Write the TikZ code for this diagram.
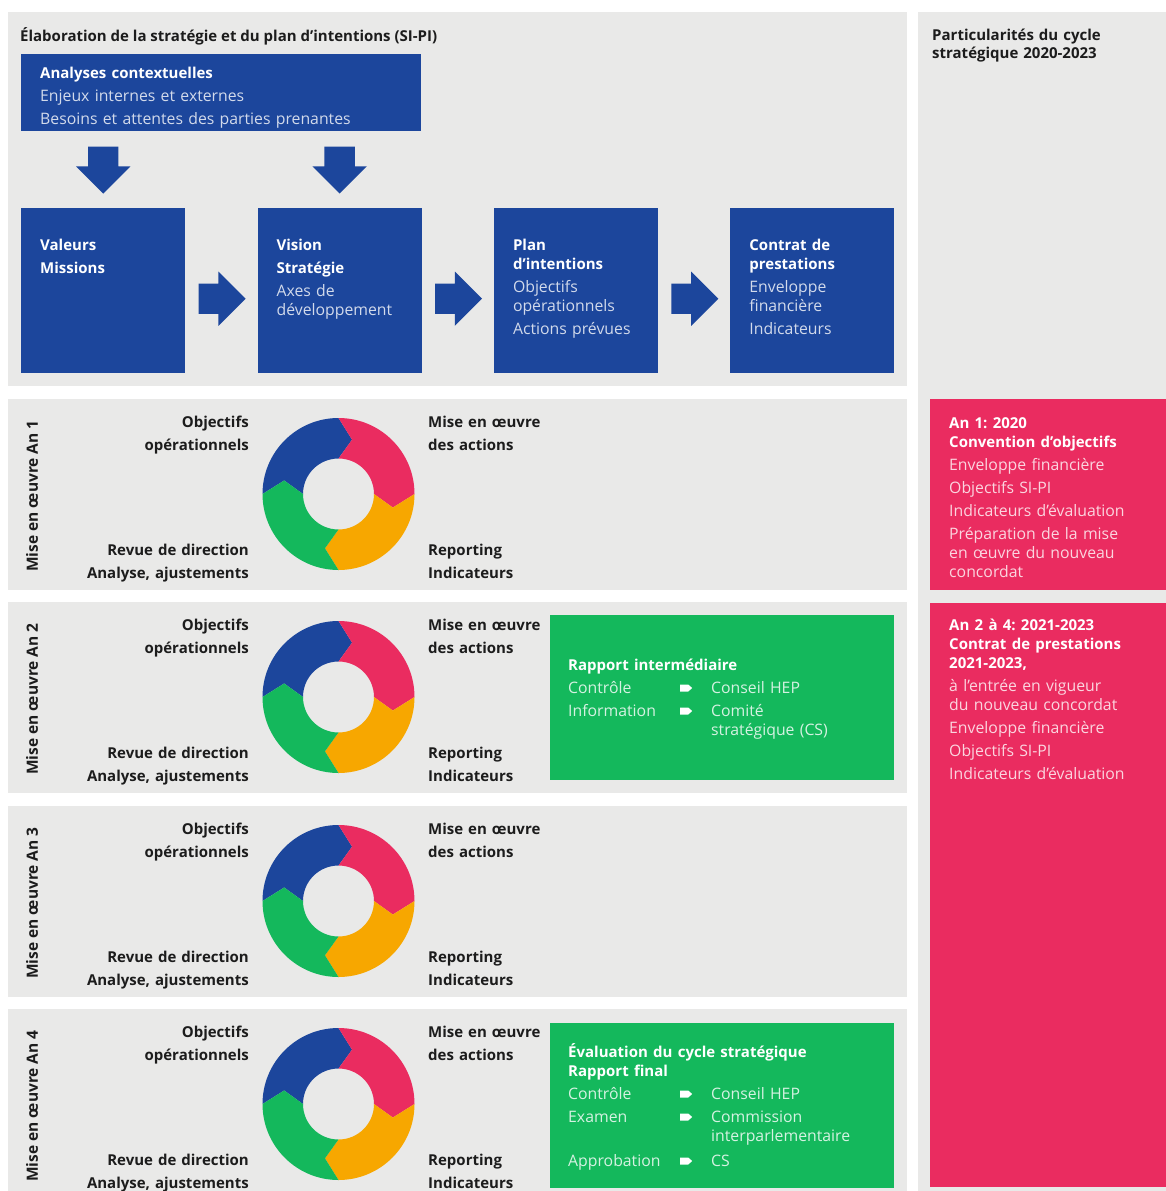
\documentclass[tikz,border=0pt]{standalone}
\usepackage{fontspec}
\setmainfont{Open Sans}
\usetikzlibrary{positioning,calc,shapes.arrows}

\definecolor{hepblue}{RGB}{28,70,156}
\definecolor{heppink}{RGB}{234,44,96}
\definecolor{heporange}{RGB}{247,167,0}
\definecolor{hepgreen}{RGB}{20,184,92}
\definecolor{panelgray}{RGB}{233,233,232}
\definecolor{darktext}{RGB}{28,28,28}
\colorlet{softblue}{white!80!hepblue}
\colorlet{softgreen}{white!82!hepgreen}
\colorlet{softpink}{white!80!heppink}

% bold lines inside the coloured boxes
\newcommand{\hd}[1]{{\fontsize{15}{19}\selectfont\bfseries #1}}

\tikzset{
  panel/.style={fill=panelgray},
  bluebox/.style={fill=hepblue, anchor=north west, inner sep=0pt, minimum width=164pt, minimum height=165pt},
  greenbox/.style={fill=hepgreen, anchor=north west, inner sep=0pt, minimum width=344pt, minimum height=165pt},
  pinkbox/.style={fill=heppink, anchor=north west, inner sep=0pt, minimum width=236pt},
  bigarrow/.style={single arrow, fill=hepblue, inner xsep=0pt, inner ysep=15pt, minimum height=47pt,
    single arrow head extend=12pt, single arrow head indent=0pt, anchor=tail},
  boxtxt/.style={anchor=base west, align=left, inner sep=0pt, text width=#1, text=white,
    font=\fontsize{15.8}{19}\selectfont},
  boxtxt/.default=320pt,
  head/.style={anchor=base west, align=left, inner sep=0pt, text=darktext, font=\fontsize{15}{18}\selectfont\bfseries},
  cyclel/.style={anchor=base east, align=right, inner sep=0pt, text width=200pt, text=darktext,
    font=\fontsize{15}{23}\selectfont\bfseries},
  cycler/.style={anchor=base west, align=left, inner sep=0pt, text width=150pt, text=darktext,
    font=\fontsize{15}{23}\selectfont\bfseries},
  rowlabel/.style={rotate=90, inner sep=0pt, text=darktext, font=\fontsize{15.5}{18}\selectfont\bfseries}
}

% small white tag arrow used in the green boxes
\newcommand{\tagarr}{\tikz[x=1pt,y=1pt,baseline=0pt]\fill[white] (0,1.5) -- (8,1.5) -- (12,5) -- (8,8.5) -- (0,8.5) -- cycle;}

\begin{document}
\frenchspacing
\begin{tikzpicture}[x=1pt,y=-1pt]
  \fill[white] (0,0) rectangle (1166,1191);
  \useasboundingbox (0,0) rectangle (1166,1191);

  % panels
  \fill[panel] (8,12) rectangle (907,386);
  \fill[panel] (918,12) rectangle (1166,1191);

  % titles
  \node[head] (title) at (20,41) {Élaboration de la stratégie et du plan d’intentions (SI-PI)};
  \node[head, text width=220pt] (ptitle) at (932,40) {Particularités du cycle\\stratégique 2020-2023};

  % analyses contextuelles
  \node[bluebox, minimum width=400pt, minimum height=77pt] (ana) at (21,54) {};
  \node[boxtxt] (ana-t) at ($(ana.north west)+(19,24)$)
    {\hd{Analyses contextuelles}\\[4pt]\color{softblue}Enjeux internes et externes\\[4pt]Besoins et attentes des parties prenantes};

  % strategy boxes
  \node[bluebox] (val) at (21,208) {};
  \node[bluebox, right=72pt of val] (vis) {};
  \node[bluebox, right=72pt of vis] (plan) {};
  \node[bluebox, right=72pt of plan] (ctr) {};

  \node[boxtxt=140pt] (val-t) at ($(val.north west)+(19,42)$) {\hd{Valeurs}\\[4pt]\hd{Missions}};
  \node[boxtxt=140pt] (vis-t) at ($(vis.north west)+(19,42)$)
    {\hd{Vision}\\[4pt]\hd{Stratégie}\\[4pt]\color{softblue}Axes de\\développement};
  \node[boxtxt=140pt] (plan-t) at ($(plan.north west)+(19,42)$)
    {\hd{Plan}\\\hd{d’intentions}\\[4pt]\color{softblue}Objectifs\\opérationnels\\[4pt]Actions prévues};
  \node[boxtxt=140pt] (ctr-t) at ($(ctr.north west)+(19,42)$)
    {\hd{Contrat de}\\\hd{prestations}\\[4pt]\color{softblue}Enveloppe\\financière\\[4pt]Indicateurs};

  % block arrows
  \node[bigarrow, rotate=-90] (dn1) at ($(val.north |- ana.south)+(0,15)$) {};
  \node[bigarrow, rotate=-90] (dn2) at ($(vis.north |- ana.south)+(0,15)$) {};
  \node[bigarrow] (ar1) at ($(val.east)+(13,8)$) {};
  \node[bigarrow] (ar2) at ($(vis.east)+(13,8)$) {};
  \node[bigarrow] (ar3) at ($(plan.east)+(13,8)$) {};

  % yearly cycles
  \foreach \top/\yr in {399/1,602/2,806/3,1009/4}{
    \fill[panel] (8,\top) rectangle (907,{\top+191});
    \begin{scope}[shift={(338.5,{\top+95})}, yscale=-1]
      \foreach \a/\col in {180/hepblue,90/heppink,0/heporange,-90/hepgreen}
        \fill[\col] (\a:76) arc[start angle=\a, end angle=\a-90, radius=76] -- (\a-104:56)
          -- (\a-90:35.5) arc[start angle=\a-90, end angle=\a, radius=35.5] -- (\a-14:56) -- cycle;
    \end{scope}
    \node[rowlabel] (row\yr) at (32,{\top+97}) {Mise en œuvre An \yr};
    \node[cyclel] (obj\yr) at (249,{\top+28}) {Objectifs\\opérationnels};
    \node[cyclel] (rev\yr) at (249,{\top+156}) {Revue de direction\\Analyse, ajustements};
    \node[cycler] (act\yr) at (428,{\top+28}) {Mise en œuvre\\des actions};
    \node[cycler] (rep\yr) at (428,{\top+156}) {Reporting\\Indicateurs};
  }

  % reports
  \node[greenbox] (inter) at (550,615) {};
  \node[boxtxt] (inter-t) at ($(inter.north west)+(18,55)$)
    {\hd{Rapport intermédiaire}\\[4pt]\color{softgreen}%
     \makebox[112pt][l]{Contrôle}\makebox[31pt][l]{\tagarr}Conseil HEP\\[4pt]
     \makebox[112pt][l]{Information}\makebox[31pt][l]{\tagarr}Comité\\
     \hspace*{143pt}stratégique (CS)};
  \node[greenbox] (final) at (550,1023) {};
  \node[boxtxt] (final-t) at ($(final.north west)+(18,34)$)
    {\hd{Évaluation du cycle stratégique}\\\hd{Rapport final}\\[4pt]\color{softgreen}%
     \makebox[112pt][l]{Contrôle}\makebox[31pt][l]{\tagarr}Conseil HEP\\[4pt]
     \makebox[112pt][l]{Examen}\makebox[31pt][l]{\tagarr}Commission\\
     \hspace*{143pt}interparlementaire\\[6pt]
     \makebox[112pt][l]{Approbation}\makebox[31pt][l]{\tagarr}CS};

  % particularities
  \node[pinkbox, minimum height=191pt] (an1) at (930,399) {};
  \node[boxtxt=210pt] (an1-t) at ($(an1.north west)+(19,29)$)
    {\hd{An 1: 2020}\\\hd{Convention d’objectifs}\\[4pt]\color{softpink}Enveloppe financière\\[4pt]
     Objectifs SI-PI\\[4pt]Indicateurs d’évaluation\\[4pt]Préparation de la mise\\en œuvre du nouveau\\concordat};
  \node[pinkbox, minimum height=584pt] (an24) at (930,603) {};
  \node[boxtxt=210pt] (an24-t) at ($(an24.north west)+(19,27)$)
    {\hd{An 2 à 4: 2021-2023}\\\hd{Contrat de prestations}\\\hd{2021-2023,}\\[4pt]\color{softpink}à l’entrée en vigueur\\du nouveau concordat\\[4pt]
     Enveloppe financière\\[4pt]Objectifs SI-PI\\[4pt]Indicateurs d’évaluation};
\end{tikzpicture}
\end{document}
